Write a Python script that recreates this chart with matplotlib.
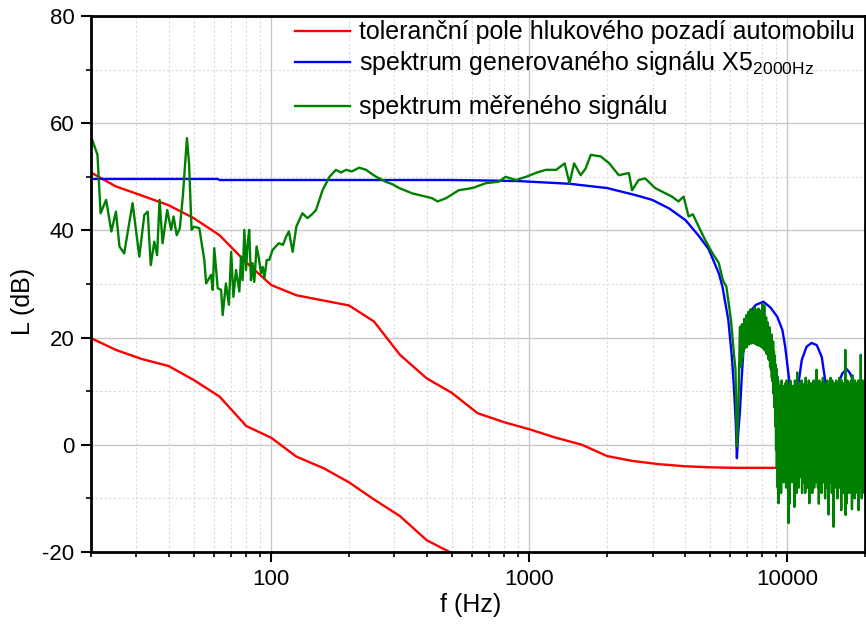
import numpy as np
import matplotlib
matplotlib.use("Agg")
import matplotlib.pyplot as plt
from matplotlib.ticker import FixedLocator, FixedFormatter, LogLocator, MultipleLocator, NullFormatter

plt.rcParams['font.family'] = ['Liberation Sans', 'DejaVu Sans']
plt.rcParams['axes.unicode_minus'] = False
plt.rcParams['path.simplify'] = False  # keep every sample of the noisy spectrum

# tolerance field of the car background noise (1/3 octave bands)
tol_f = [20, 25, 31.5, 40, 50, 63, 80, 100, 125, 160, 200, 250, 315, 400, 500, 630,
         800, 1000, 1250, 1600, 2000, 2500, 3150, 4000, 5000, 6300, 8000, 10000, 12500]
tol_upper = [50.8, 48.2, 46.5, 44.7, 42.3, 39.1, 34.0, 29.8, 27.9, 26.9, 26.0, 23.0, 16.8, 12.4, 9.7, 5.9,
             4.2, 2.9, 1.4, 0.0, -2.1, -3.0, -3.6, -4.0, -4.2, -4.3, -4.3, -4.3, -4.3]
tol_lower_f = [20, 25, 31.5, 40, 50, 63, 80, 100, 125, 160, 200, 250, 315, 400, 500, 630]
tol_lower = [19.9, 17.7, 16.0, 14.7, 12.1, 9.0, 3.5, 1.3, -2.2, -4.4, -7.0, -10.2, -13.3, -17.8, -20.2, -23.0]

# spectrum of the generated X5 signal
gen_f = [20, 62, 63, 300, 500, 700, 910, 1430, 2000, 2570, 2990, 3480, 4030, 4530, 4950, 5420, 5600,
         5900, 6100, 6200, 6300, 6370, 6440, 6550, 6650, 6740, 6880, 7030, 7300, 7540, 8070, 8600,
         9130, 9560, 9800, 10120, 10400, 10600, 10800, 11040, 11360, 11860, 12400, 12990, 13580,
         14000, 14500, 14800, 15200, 15800, 16300, 17000, 17500, 18100, 18700, 19000, 19400, 20000]
gen_L = [49.6, 49.6, 49.4, 49.4, 49.4, 49.3, 49.2, 48.7, 47.9, 46.6, 45.7, 44.1, 41.9, 39.0, 36.5, 32.0, 29.5,
         23.3, 16.0, 10.8, 4.5, -2.5, 2.0, 6.5, 12.5, 17.0, 21.0, 23.5, 25.3, 26.1, 26.7, 25.6,
         23.9, 21.4, 18.3, 12.7, 5.0, -3.0, 3.0, 11.5, 15.8, 18.3, 19.0, 18.6, 16.4,
         12.1, 6.0, -2.0, 5.0, 11.5, 13.3, 14.1, 13.3, 11.5, 5.0, -2.0, 4.0, 9.0]

# measured spectrum, low and mid frequencies
meas_f = [20, 21.2, 21.8, 22.9, 24.0, 25.0, 25.8, 26.9, 29.0, 30.8, 32.2, 33.2, 34.1, 35.2, 36.1,
          36.9, 37.9, 39.5, 40.9, 41.8, 43.0, 44.2, 45.4, 47.1, 48.0, 49.1, 50.2, 52.6, 55.0, 55.9,
          58.4, 59.3, 60.1, 62.0, 63.9, 64.8, 66.7, 68.5, 69.9, 71.3, 73.0, 75.2, 76.3, 77.4, 78.6,
          79.8, 80.9, 82.1, 83.4, 84.6, 85.9, 87.7, 89.3, 91.2, 92.6, 94.0, 96.0, 98.2, 101, 104,
          107, 111, 114, 117, 121, 125, 132, 138, 143, 149, 158, 168, 178, 186, 195, 205, 219, 233,
          244, 255, 277, 295, 313, 352, 397, 420, 441, 475, 533, 602, 677, 762, 809, 886, 972, 1070,
          1160, 1270, 1370, 1430, 1490, 1580, 1650, 1730, 1890, 2040, 2220, 2430, 2500, 2650, 2810,
          3070, 3370, 3570, 3780, 3960, 4140, 4300, 4530, 4800, 5130, 5420, 5620, 5800, 6040, 6200,
          6290, 6370, 6460, 6550]
meas_L = [57.6, 54.1, 43.2, 45.7, 39.8, 43.5, 37.0, 35.7, 45.1, 35.1, 42.9, 43.5, 33.5, 37.9, 35.4,
          45.7, 37.6, 43.8, 40.1, 42.6, 39.1, 40.4, 46.3, 57.2, 52.5, 40.1, 40.7, 40.4, 34.5, 30.1,
          31.7, 28.9, 36.7, 29.2, 28.9, 24.2, 30.1, 26.1, 36.0, 27.6, 32.6, 28.6, 35.1, 30.7, 40.1,
          32.6, 37.3, 40.1, 30.7, 33.9, 30.4, 37.0, 35.1, 32.0, 33.2, 31.1, 34.5, 34.5, 36.3, 37.0,
          37.6, 37.3, 38.8, 39.8, 36.0, 40.7, 43.2, 42.3, 42.9, 43.8, 47.5, 50.0, 51.3, 50.8, 51.3, 51.0, 51.7, 51.3,
          50.6, 50.0, 49.1, 48.6, 47.9, 46.9, 46.3, 46.0, 45.4, 46.0, 47.5, 47.9, 48.8, 49.1, 50.0, 49.4, 50.0, 50.8,
          51.3, 51.3, 52.5, 48.8, 52.5, 50.3, 51.5, 54.1, 53.8, 52.5, 50.3, 50.7, 47.5, 49.4, 49.7,
          47.9, 46.9, 46.3, 45.4, 46.3, 42.6, 43.0, 40.7, 38.2, 35.7, 33.9, 30.7, 29.5, 23.3, 17.1,
          14.0, -0.3, 8.4, 22.0]

# measured spectrum, first side lobe (pairs of lower / upper band values)
lobe_L = [14.5, 21.0, 15.0, 22.5, 16.2, 21.8, 17.5, 23.5, 18.0, 22.9, 18.6, 24.2, 18.2, 23.6, 19.0, 24.8,
          18.7, 23.9, 19.3, 25.3, 18.9, 24.4, 19.4, 25.0, 19.0, 24.1, 19.2, 25.6, 18.8, 24.6, 19.1, 25.2,
          18.6, 24.3, 19.0, 25.4, 18.5, 24.2, 18.9, 25.0, 18.3, 24.5, 18.6, 26.3, 18.0, 24.0, 18.2, 26.0,
          17.6, 23.6, 17.8, 23.8, 17.0, 22.6, 16.8, 22.8, 16.0, 21.5, 15.8, 21.9, 14.6, 20.4, 14.0, 20.6,
          12.5, 19.0, 11.8, 19.3, 9.5, 17.4, 7.0, 16.6, 3.5, 15.0, -1.0, 14.2, -4.5, 12.8, -8.0, 12.0]

# measured spectrum, noise floor above 9.2 kHz (lower / upper pairs)
noise_L = [-10.9, 11, -6, 10, -9, 12, -5, 11, -7, 10, -6, 11.5, -8, 12, -5, 10, -14.6, 11, -11, 12,
           -6, 10, -7, 11, -5, 10.5, -11.6, 12, -6, 11, -9, 13.5, -5, 10, -8, 11, -4, 10, -6, 12,
           -9, 10.5, -7, 11, -5, 11.5, -9, 12.5, -4, 10, -8, 11, -6, 12, -10.9, 10, -5, 11.5, -7, 10.5,
           -9, 10, -6, 12, -8, 10.5, -5, 11, -7, 14, -5, 10.5, -8, 11, -11, 12, -6, 10, -5, 11.5,
           -9, 10.5, -5, 12.5, -7, 10, -6, 11.5, -10, 11, -5, 10, -8, 12, -5, 10.5, -13, 11, -6, 10.5,
           -7, 12.5, -5, 10, -9, 12, -5, 10.5, -15.3, 11, -6, 11.5, -8, 10, -5, 12, -7, 10.5, -10, 10,
           -6, 11.5, -5, 12.5, -8, 10, -5, 10.5, -12.2, 12, -7, 10, -5, 11.5, -9, 10, -6, 11, -5, 17.7,
           -13.1, 11, -11, 10, -5, 12, -7, 10.5, -6, 10, -9, 11.5, -5, 10, -7, 12, -5, 10.5, -12, 13,
           -6, 10, -8, 11.5, -5, 10, -10, 12, -5, 10.5, -7, 10, -6, 11.5, -9, 10.5, -5, 12, -12.2, 10,
           -7, 11.5, -6, 10.5, -8, 16.8, -5, 11, -10, 10, -5, 12, -7, 10.5, -6, 11.5, -9, 10, -8, 10.5]

lobe_f = np.linspace(6560, 9200, len(lobe_L))
noise_f = np.linspace(9230, 20000, len(noise_L))
green_f = np.concatenate([meas_f, lobe_f, noise_f])
green_L = np.concatenate([meas_L, lobe_L, noise_L])

fig = plt.figure(figsize=(8.66, 6.25), dpi=100)
ax = fig.add_axes([0.105, 0.1168, 0.894, 0.8576])

l_tol, = ax.plot(tol_f, tol_upper, color='#ff0000', lw=1.7)
ax.plot(tol_lower_f, tol_lower, color='#ff0000', lw=1.7)
l_gen, = ax.plot(gen_f, gen_L, color='#0000ff', lw=1.7)
l_meas, = ax.plot(green_f, green_L, color='#008000', lw=1.7)

ax.set_xscale('log')
ax.set_xlim(20, 20000)
ax.set_ylim(-20, 80)

ax.xaxis.set_major_locator(FixedLocator([100, 1000, 10000]))
ax.xaxis.set_major_formatter(FixedFormatter(['100', '1000', '10000']))
ax.xaxis.set_minor_locator(LogLocator(base=10, subs=np.arange(2, 10), numticks=20))
ax.xaxis.set_minor_formatter(NullFormatter())
ax.yaxis.set_major_locator(MultipleLocator(20))
ax.yaxis.set_minor_locator(MultipleLocator(10))

ax.grid(which='major', color='#c8c8c8', lw=1.0, ls='-')
ax.grid(which='minor', color='#dadada', lw=0.8, ls=(0, (2, 2)))
ax.set_axisbelow(True)

for s in ax.spines.values():
    s.set_linewidth(2)
ax.tick_params(which='major', direction='out', length=7, width=1.5, labelsize=16, pad=5)
ax.tick_params(which='minor', direction='out', length=3.5, width=1.2)
ax.tick_params(top=False, right=False)

ax.set_xlabel('f (Hz)', fontsize=18)
ax.set_ylabel('L (dB)', fontsize=18)
ax.xaxis.set_label_coords(0.49, -0.077)
ax.yaxis.set_label_coords(-0.072, 0.468)

# legend: the subscripted entry needs extra room below it, so the last row is a second legend
leg_kw = dict(loc='upper left', frameon=False, fontsize=18, handlelength=2.2, handletextpad=0.37,
              labelspacing=0.2, borderpad=0, borderaxespad=0)
leg1 = ax.legend([l_tol, l_gen],
                 ['toleranční pole hlukového pozadí automobilu',
                  r'spektrum generovaného signálu X5$_{\mathregular{2000Hz}}$'],
                 bbox_to_anchor=(0.2636, 0.992), **leg_kw)
ax.add_artist(leg1)
ax.legend([l_meas], ['spektrum měřeného signálu'], bbox_to_anchor=(0.2636, 0.852), **leg_kw)

fig.savefig('out.png', dpi=100)
